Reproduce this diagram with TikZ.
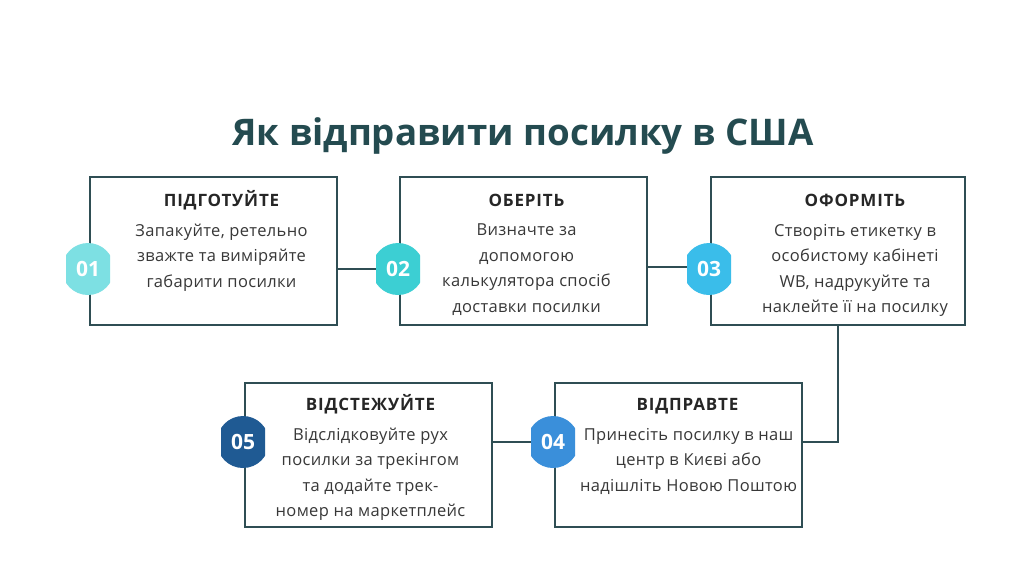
\documentclass[tikz,border=0pt]{standalone}
\usepackage{fontspec}
\setmainfont{Open Sans}
\newfontfamily\hdfont[LetterSpace=5]{Open Sans}
\newfontfamily\bdfont[LetterSpace=2]{Open Sans}
\usepackage{xcolor}
\usetikzlibrary{positioning}
\definecolor{edge}{HTML}{2F4E54}
\definecolor{ttl}{HTML}{244B50}
\definecolor{cA}{HTML}{7DE0E3}
\definecolor{cB}{HTML}{3CCFD3}
\definecolor{cC}{HTML}{3ABDEA}
\definecolor{cD}{HTML}{3A8FDA}
\definecolor{cE}{HTML}{1F5A93}
\tikzset{
  stp/.style={draw=edge,line width=2.4pt,minimum height=#1,inner sep=0pt},
  lnk/.style={draw=edge,line width=2.4pt},
  hd/.style={font=\hdfont\bfseries\fontsize{17}{20}\selectfont,text=black!85,anchor=base},
  bd/.style={font=\bdfont\fontsize{16.5}{25.5}\selectfont,text=black!78,align=center,anchor=north,inner sep=0pt},
  bdg/.style={minimum width=44pt,minimum height=52pt,inner sep=0pt,text=white,
    font=\bfseries\fontsize{21}{21}\selectfont,
    path picture={\fill[#1] (path picture bounding box.center) circle (26pt);}}
}
\begin{document}
\begin{tikzpicture}[x=1pt,y=-1pt]
\useasboundingbox[fill=white] (0,0) rectangle (1024,576);
\node[font=\bfseries\fontsize{36.7}{40}\selectfont,text=ttl] (title) at (523,136) {Як відправити посилку в США};

\node[stp=148pt,minimum width=247pt] (b1) at (213.5,251) {};
\node[stp=148pt,minimum width=247pt] (b2) at (523.5,251) {};
\node[stp=148pt,minimum width=254pt] (b3) at (838,251) {};
\node[stp=144pt,minimum width=247pt] (b4) at (678.5,455) {};
\node[stp=144pt,minimum width=247pt] (b5) at (368.5,455) {};

\node[hd] (h1) at ([xshift=8pt,yshift=-31pt]b1.north) {ПІДГОТУЙТЕ};
\node[hd] (h2) at ([xshift=3pt,yshift=-31pt]b2.north) {ОБЕРІТЬ};
\node[hd] (h3) at ([xshift=17pt,yshift=-31pt]b3.north) {ОФОРМІТЬ};
\node[hd] (h4) at ([xshift=9pt,yshift=-29pt]b4.north) {ВІДПРАВТЕ};
\node[hd] (h5) at ([xshift=2pt,yshift=-29pt]b5.north) {ВІДСТЕЖУЙТЕ};

\node[bd] (t1) at ([xshift=8pt,yshift=-48pt]b1.north) {Запакуйте, ретельно\\зважте та виміряйте\\габарити посилки};
\node[bd] (t2) at ([xshift=3pt,yshift=-48pt]b2.north) {Визначте за\\допомогою\\калькулятора спосіб\\доставки посилки};
\node[bd] (t3) at ([xshift=17pt,yshift=-48pt]b3.north) {Створіть етикетку в\\особистому кабінеті\\WB, надрукуйте та\\наклейте її на посилку};
\node[bd] (t4) at ([xshift=10pt,yshift=-46pt]b4.north) {Принесіть посилку в наш\\центр в Києві або\\надішліть Новою Поштою};
\node[bd] (t5) at ([xshift=2pt,yshift=-46pt]b5.north) {Відслідковуйте рух\\посилки за трекінгом\\та додайте трек-\\номер на маркетплейс};

\draw[lnk] (b1.east |- 0,269) -- (b2.west |- 0,269);
\draw[lnk] (b2.east |- 0,267) -- (b3.west |- 0,267);
\draw[lnk] (b3.south) |- (b4.east |- 0,442);
\draw[lnk] (b5.east |- 0,442) -- (b4.west |- 0,442);

\node[bdg=cA] (n1) at (88,269) {01};
\node[bdg=cB] (n2) at (398,269) {02};
\node[bdg=cC] (n3) at (709,269) {03};
\node[bdg=cD] (n4) at (553,442) {04};
\node[bdg=cE] (n5) at (243,442) {05};
\end{tikzpicture}
\end{document}
